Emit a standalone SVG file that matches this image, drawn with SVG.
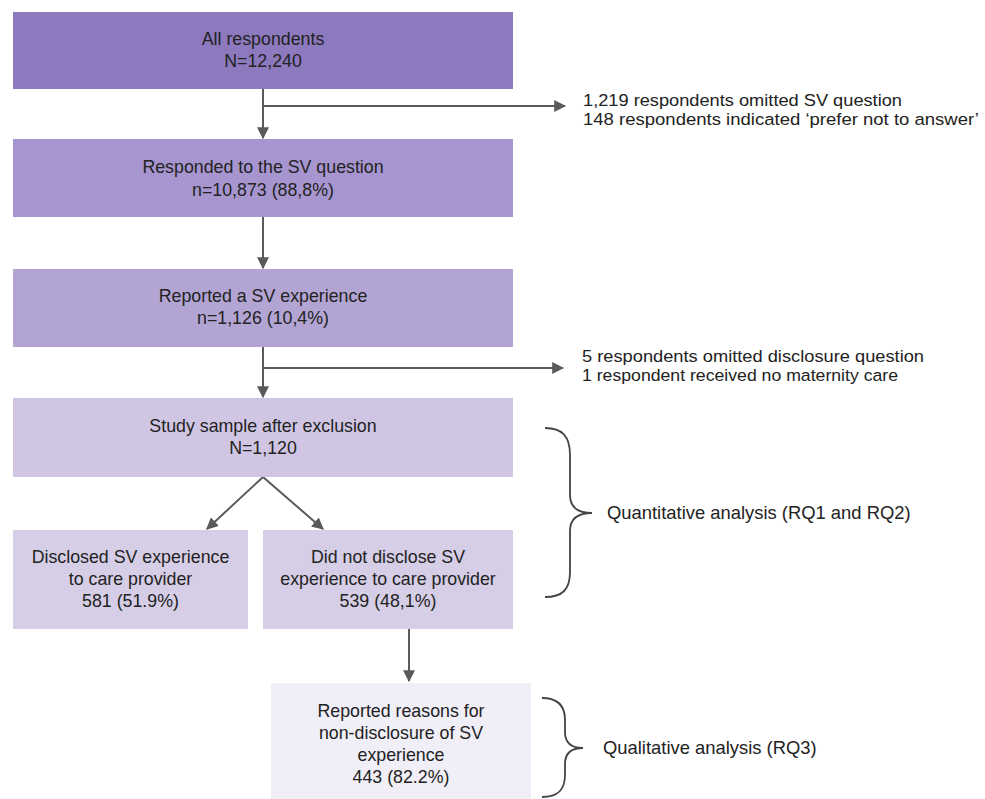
<svg xmlns="http://www.w3.org/2000/svg" width="985" height="799" viewBox="0 0 985 799">
<style>
text{font-family:"Liberation Sans",Arial,sans-serif;font-size:17.8px;fill:#222}
.c{text-anchor:middle}
.r{font-size:18.4px}
.e{font-size:16.8px}
.ln{fill:none;stroke:#5a5a5a;stroke-width:2}
.br{fill:none;stroke:#444;stroke-width:1.8}
</style>
<defs>
<marker id="ah" viewBox="0 0 10 10" refX="9" refY="5" markerWidth="6" markerHeight="6" orient="auto" markerUnits="strokeWidth">
<path d="M0,0 L10,5 L0,10 z" fill="#5a5a5a"/>
</marker>
</defs>
<rect width="985" height="799" fill="#fff"/>
<g id="connectors">
<line class="ln" x1="263" y1="89" x2="263" y2="138" marker-end="url(#ah)"/>
<line class="ln" x1="263" y1="106" x2="565" y2="106" marker-end="url(#ah)"/>
<line class="ln" x1="263" y1="217" x2="263" y2="268" marker-end="url(#ah)"/>
<line class="ln" x1="263" y1="347" x2="263" y2="397" marker-end="url(#ah)"/>
<line class="ln" x1="263" y1="368" x2="563" y2="368" marker-end="url(#ah)"/>
<line class="ln" x1="263" y1="477" x2="207" y2="529" marker-end="url(#ah)"/>
<line class="ln" x1="263" y1="477" x2="323" y2="529" marker-end="url(#ah)"/>
<line class="ln" x1="409" y1="629" x2="409" y2="681" marker-end="url(#ah)"/>
</g>
<g id="node-all">
<rect x="13" y="12" width="500" height="77" fill="#8c79be"/>
<text class="c" x="263" y="45">All respondents</text>
<text class="c" x="263" y="67">N=12,240</text>
</g>
<g id="node-excl1">
<text class="e" x="583" y="106" textLength="319" lengthAdjust="spacingAndGlyphs">1,219 respondents omitted SV question</text>
<text class="e" x="583" y="125" textLength="396" lengthAdjust="spacingAndGlyphs">148 respondents indicated ‘prefer not to answer’</text>
</g>
<g id="node-responded">
<rect x="13" y="139" width="500" height="78" fill="#a695cf"/>
<text class="c" x="263" y="173">Responded to the SV question</text>
<text class="c" x="263" y="196">n=10,873 (88,8%)</text>
</g>
<g id="node-reported">
<rect x="13" y="269" width="500" height="78" fill="#b3a5d3"/>
<text class="c" x="263" y="302">Reported a SV experience</text>
<text class="c" x="263" y="324">n=1,126 (10,4%)</text>
</g>
<g id="node-excl2">
<text class="e" x="582" y="362" textLength="342" lengthAdjust="spacingAndGlyphs">5 respondents omitted disclosure question</text>
<text class="e" x="582" y="381" textLength="316" lengthAdjust="spacingAndGlyphs">1 respondent received no maternity care</text>
</g>
<g id="node-sample">
<rect x="13" y="398" width="500" height="79" fill="#d0c6e4"/>
<text class="c" x="263" y="432">Study sample after exclusion</text>
<text class="c" x="263" y="454">N=1,120</text>
</g>
<g id="node-disclosed">
<rect x="13" y="530" width="235" height="99" fill="#d5cee6"/>
<text class="c" x="130.5" y="563">Disclosed SV experience</text>
<text class="c" x="130.5" y="585">to care provider</text>
<text class="c" x="130.5" y="607">581 (51.9%)</text>
</g>
<g id="node-notdisclosed">
<rect x="263" y="530" width="250" height="99" fill="#d5cee6"/>
<text class="c" x="388" y="563">Did not disclose SV</text>
<text class="c" x="388" y="585">experience to care provider</text>
<text class="c" x="388" y="607">539 (48,1%)</text>
</g>
<g id="node-reasons">
<rect x="271" y="683" width="260" height="116" fill="#f0eef7"/>
<text class="c" x="401" y="717">Reported reasons for</text>
<text class="c" x="401" y="739">non-disclosure of SV</text>
<text class="c" x="401" y="761">experience</text>
<text class="c" x="401" y="783">443 (82.2%)</text>
</g>
<g id="node-quant">
<path class="br" d="M545,428 C562,428 570,436 570,455 L570,495 C570,507 578,513 592,513 C578,513 570,519 570,531 L570,572 C570,590 562,597 545,597"/>
<text class="r" x="607" y="519">Quantitative analysis (RQ1 and RQ2)</text>
</g>
<g id="node-qual">
<path class="br" d="M542,698 C558,698 565,706 565,720 L565,732 C565,743 572,748 583,748 C572,748 565,753 565,764 L565,775 C565,790 558,797 542,797"/>
<text class="r" x="603" y="754">Qualitative analysis (RQ3)</text>
</g>
</svg>
